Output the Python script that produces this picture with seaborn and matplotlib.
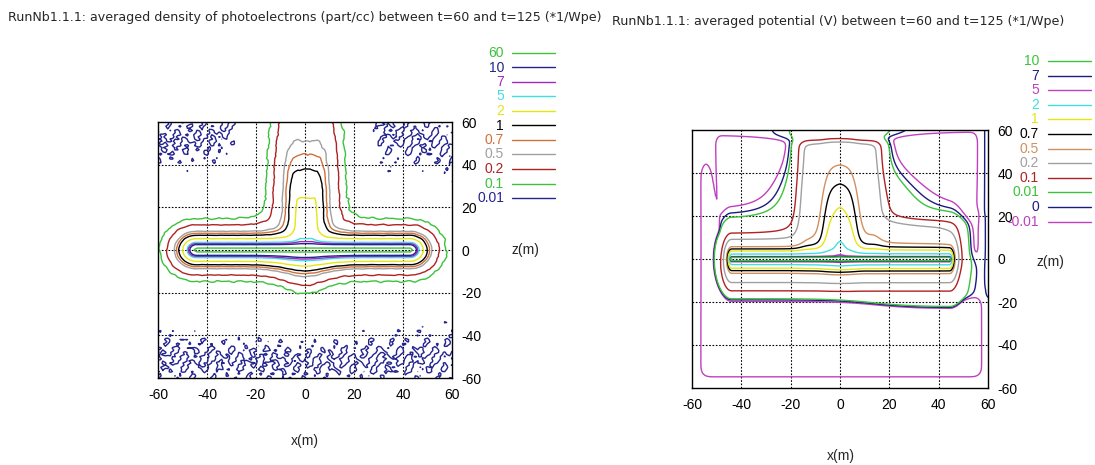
import numpy as np
import matplotlib
matplotlib.use("Agg")
import matplotlib.pyplot as plt
import seaborn as sns
from matplotlib.lines import Line2D

sns.set_theme(style="white")
plt.rcParams['font.family'] = ['Liberation Sans', 'DejaVu Sans']

# ---------------- data ----------------
title_density = "RunNb1.1.1: averaged density of photoelectrons (part/cc) between t=60 and t=125 (*1/Wpe)"
title_potential = "RunNb1.1.1: averaged potential (V) between t=60 and t=125 (*1/Wpe)"
tick_values = [-60, -40, -20, 0, 20, 40, 60]

density_labels = ["60", "10", "7", "5", "2", "1", "0.7", "0.5", "0.2", "0.1", "0.01"]
density_colors = ["#3cc23c", "#24248e", "#a028c0", "#3ee0e0", "#e6e614", "#000000",
                  "#d0703a", "#a0a0a0", "#b02222", "#3cc23c", "#24248e"]
potential_labels = ["10", "7", "5", "2", "1", "0.7", "0.5", "0.2", "0.1", "0.01", "0", "-0.01"]
potential_colors = ["#3cc23c", "#1c1c80", "#c040c0", "#3ee0e0", "#e6e614", "#000000",
                    "#d09060", "#a0a0a0", "#b02222", "#3cc23c", "#1c1c80", "#c040c0"]

# geometry of the structures (m)
boom_tips_density = (-44.6, 43.0)
boom_tips_potential = (-44.0, 44.5)
mast_axis_x = 0.5
mast_core_halfwidth = 2.5
mast_core_top = 16.0
pocket_left_edge = -49.5      # negative-potential pockets above the boom
pocket_right_edge = 55.5

# ---------------- fields ----------------
def sig(u):
    return 1.0 / (1.0 + np.exp(-u))

def texture(X, Z):
    return (np.sin(0.83 * X + 1.1) * np.sin(0.71 * Z + 0.3)
            + 0.7 * np.sin(1.37 * X - 0.53 * Z + 2.0)
            + 0.6 * np.sin(0.47 * X + 1.21 * Z + 0.7) * np.cos(1.9 * Z - 0.4 * X)
            + 0.5 * np.sin(2.31 * X + 1.73 * Z + 0.2)
            + 0.5 * np.sin(0.29 * X - 2.07 * Z + 1.3) * np.sin(1.13 * X + 0.4)) / 2.6

# density of photoelectrons
g1 = np.arange(-60, 60.001, 1.0)
X1, Z1 = np.meshgrid(g1, g1)
sag = 1 - 0.3 * np.exp(-(X1 / 12) ** 2) * np.exp(-(Z1 / 40) ** 4)
Zs = np.where(Z1 < 0, Z1 * sag, Z1)
x0, x1 = boom_tips_density
db = np.hypot(np.maximum(np.maximum(x0 - X1, X1 - x1), 0.0), Zs)
n_boom = (np.exp(5.7 - 2.2 * np.sqrt(db)) + 0.075 * np.exp(-db / 10)
          + 0.0215 * np.exp(-db / 62.8))
dxc = np.maximum(np.abs(X1 - mast_axis_x) - mast_core_halfwidth, 0)
dzc = np.where(Z1 > mast_core_top, (Z1 - mast_core_top) / 5.0, np.where(Z1 < 0, -4 * Z1, 0))
dc = (dxc ** 3 + dzc ** 3) ** (1 / 3)
n_mast = 3.07 * np.exp(-dc / 3.83)
dens = n_boom + n_mast
dens = dens + 0.05 * np.sqrt(dens) * texture(X1, Z1)

# potential
g2 = np.arange(-60, 60.001, 0.5)
X2, Z2 = np.meshgrid(g2, g2)
x0, x1 = boom_tips_potential
dtip = np.maximum(np.maximum(x0 - X2, X2 - x1), 0)
d2 = np.maximum(np.hypot(dtip * 2.9, np.where(Z2 < 0, 0.88 * Z2, Z2)), 0.25)
P_boom = np.exp(1.83 - d2 / 11.2 - 1.123 * np.log(d2))
r = np.abs(X2)
zp = np.maximum(Z2, 0)
below = np.where(Z2 < 0, np.exp(Z2 / 2.5), 1.0)
core = 0.00586 * np.clip(60 - zp, 0, None) ** 1.3 * sig((6 - r) / 1.5)
b = 0.25 * sig((54.5 - Z2) / 1.0)
tail = b * sig((16.1 - r) / 1.5)
r_w = np.where(X2 > 0, X2 * (1 - 0.25 * sig((40 - Z2) / 6)), -X2)
w2 = 0.035 + 0.09 * sig((38 - Z2) / 7)
wide = w2 * np.exp(-(np.maximum(r_w, 14) - 14) / 8) * sig((Z2 - 8) / 3)
P_mast = (core + tail) * below + wide
shoulder = 0.16 * sig((X2 - 14) / 2) * sig((47 - X2) / 2.5) * sig((17.5 - Z2) / 1.5) * sig((Z2 + 3) / 2)
spike = 1.6 * np.exp(-(X2 / 2.0) ** 2) * np.exp(-np.abs(Z2) / 6.5) * np.where(Z2 < 0, np.exp(Z2 / 1.5), 1.0)
P = P_boom + P_mast + shoulder + spike

dT = np.hypot(dtip * 2.4, Z2)
R0 = 17.5 + 5 * sig((X2 - 12) / 8)
near = sig((dT - R0) / 0.8)
xa = -48.8 - 0.16 * np.maximum(Z2 - 12, 0)
U_left = near * sig((xa - X2) / 0.5) * sig((42 - Z2) / 1.5)
zc = -19.5 * sig((X2 - 18) / 4)
U_bottom = near * sig((zc - Z2) / 1.0)
U = np.maximum(U_left, U_bottom)
x_r = pocket_right_edge + 5 * sig((21 - Z2) / 1.5)
z_top = 55.6 + 1.5 * sig(X2 / 5)
Q_up = (0.025 * sig((X2 - pocket_left_edge) / 0.5) * sig((x_r - X2) / 0.7)
        * sig((z_top - Z2) / 1.0) * sig(Z2 / 2))
Q = 0.0072 + 0.06 * U + Q_up
Tw = sig(((X2 + 60) - 5) / 0.8) * sig(((60 - X2) - 4.0) / 0.8) * sig(((Z2 + 60) - 6.95) / 1.0)
phi = (P - Q) * Tw + 0.006 * sig((X2 - 59.4) / 0.2) * sig((Z2 + 12) / 1.5)

# ---------------- figure ----------------
W, H = 1095, 465
fig = plt.figure(figsize=(W / 100, H / 100), dpi=100)
ax1 = fig.add_axes([158 / W, 1 - 378 / H, 294 / W, 256 / H])
ax2 = fig.add_axes([692 / W, 1 - 388 / H, 296 / W, 258 / H])

def draw(ax, X, Z, field, labels, colors):
    vals = [float(s) for s in labels]
    order = np.argsort(vals)
    lv = [vals[i] for i in order]
    cl = [colors[i] for i in order]
    ax.contour(X, Z, field, levels=lv, colors=cl, linewidths=1.0)
    ax.set_xlim(-60, 60)
    ax.set_ylim(-60, 60)
    ax.set_xticks(tick_values)
    ax.set_yticks(tick_values)
    ax.set_xticklabels([str(t) for t in tick_values])
    ax.set_yticklabels([str(t) for t in tick_values])
    ax.yaxis.tick_right()
    ax.tick_params(axis='both', labelsize=10, colors='black', length=0, pad=7)
    for x in tick_values[1:-1]:
        ax.axvline(x, color='black', lw=0.8, ls=(0, (1.5, 1.5)), zorder=0)
        ax.axhline(x, color='black', lw=0.8, ls=(0, (1.5, 1.5)), zorder=0)
    for s in ax.spines.values():
        s.set_color('black')
        s.set_linewidth(1.0)
    ax.set_facecolor('white')

draw(ax1, X1, Z1, dens, density_labels, density_colors)
draw(ax2, X2, Z2, phi, potential_labels, potential_colors)

def legend(labels, colors, x_text, x0, x1, y0, dy):
    for i, (lab, col) in enumerate(zip(labels, colors)):
        y = 1 - (y0 + i * dy) / H
        fig.text(x_text / W, y, lab, color=col, ha='right', va='center', fontsize=10)
        fig.add_artist(Line2D([x0 / W, x1 / W], [y, y], color=col, lw=1.0))

legend(density_labels, density_colors, 504, 512, 555, 53, 14.5)
legend(potential_labels, potential_colors, 1039, 1048, 1091, 61, 14.6)

tfont = dict(family=['DejaVu Sans'], fontsize=9.1)
fig.text(8 / W, 1 - 18 / H, title_density, ha='left', va='center', **tfont)
fig.text(612 / W, 1 - 22 / H, title_potential, ha='left', va='center', **tfont)
fig.text(525 / W, 1 - 250 / H, "z(m)", ha='center', va='center', fontsize=10)
fig.text(305 / W, 1 - 441 / H, "x(m)", ha='center', va='center', fontsize=10)
fig.text(1050 / W, 1 - 262 / H, "z(m)", ha='center', va='center', fontsize=10)
fig.text(841 / W, 1 - 456 / H, "x(m)", ha='center', va='center', fontsize=10)

fig.savefig("out.png", dpi=100, facecolor='white')
